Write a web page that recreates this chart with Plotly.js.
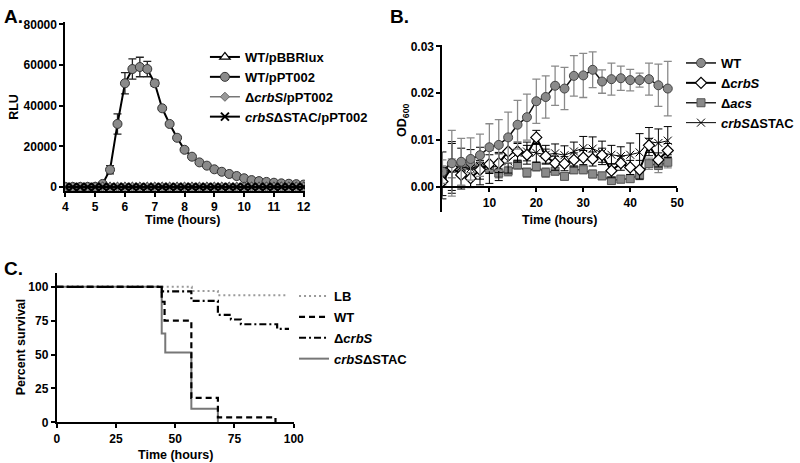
<!DOCTYPE html>
<html>
<head>
<meta charset="utf-8">
<script src="https://cdn.plot.ly/plotly-3.0.1.min.js"></script>
<style>html,body{margin:0;padding:0;background:#fff;}#chart{width:800px;height:463px;}</style>
</head>
<body>
<div id="chart"></div>
<script>
// ---------- Panel A data (RLU vs time, hours) ----------
const timeA = [4,4.25,4.5,4.75,5,5.25,5.5,5.75,6,6.25,6.5,6.75,7,7.25,7.5,7.75,8,8.25,8.5,8.75,9,9.25,9.5,9.75,10,10.25,10.5,10.75,11,11.25,11.5,11.75,12];
const rluWTpBBRlux = [0,0,0,0,0,0,0,0,0,0,0,0,0,0,0,0,0,0,0,0,0,0,0,0,0,0,0,0,0,0,0,0,0];
const rluWTpPT002 = [0,0,0,0,100,1500,8500,31000,51000,58000,59000,58000,51000,38700,31000,24200,18300,14900,12100,10500,8700,7500,6400,5400,4300,3400,2900,2500,2100,1800,1600,1400,1200];
const rluWTpPT002Err = [0,0,0,0,100,400,2000,5000,5200,5000,4800,3800,1500,800,600,500,400,400,300,300,300,200,200,200,200,200,200,200,200,200,200,200,200];
const rluCrbSpPT002 = [0,0,0,0,0,0,0,0,0,0,0,0,0,0,0,0,0,0,0,0,0,0,0,0,0,0,0,0,0,0,0,0,0];
const rluSTACpPT002 = [0,0,0,0,0,0,0,0,0,0,0,0,0,0,0,0,0,0,0,0,0,0,0,0,0,0,0,0,0,0,0,0,0];
const ticksA_x = [4,5,6,7,8,9,10,11,12];
const ticksA_y = [0,20000,40000,60000,80000];

// ---------- Panel B data (OD600 vs time, hours) ----------
const timeB = [0,2,4,6,8,10,12,14,16,18,20,22,24,26,28,30,32,34,36,38,40,42,44,46,48];
const odWT = [0.0033,0.0051,0.0054,0.0060,0.0068,0.0085,0.0090,0.0106,0.0133,0.0149,0.0183,0.0192,0.0216,0.0210,0.0237,0.0238,0.0250,0.0225,0.0230,0.0232,0.0228,0.0228,0.0230,0.0217,0.0210];
const odWTErr = [0.0025,0.0070,0.0050,0.0045,0.0045,0.0050,0.0054,0.0054,0.0052,0.0049,0.0047,0.0045,0.0042,0.0045,0.0043,0.0047,0.0038,0.0025,0.0034,0.0026,0.0023,0.0015,0.0034,0.0045,0.0058];
const odCrbS = [0.0012,0.0042,0.0026,0.0019,0.0037,0.0049,0.0051,0.0076,0.0076,0.0069,0.0106,0.0066,0.0051,0.0050,0.0058,0.0063,0.0060,0.0068,0.0035,0.0051,0.0042,0.0037,0.0089,0.0058,0.0078];
const odCrbSErr = [0.003,0.0055,0.003,0.002,0.002,0.002,0.002,0.0025,0.002,0.002,0.0015,0.0015,0.0015,0.0015,0.0015,0.0015,0.0015,0.0015,0.0015,0.0015,0.0015,0.002,0.0015,0.0015,0.0015];
const odAcs = [0.0025,0.0040,0.0041,0.0046,0.0044,0.0040,0.0030,0.0034,0.0048,0.0031,0.0044,0.0031,0.0034,0.0023,0.0037,0.0037,0.0028,0.0024,0.0014,0.0017,0.0018,0.0026,0.0050,0.0046,0.0053];
const odAcsErr = [0.002,0.002,0.0015,0.0015,0.001,0.001,0.001,0.001,0.001,0.001,0.001,0.001,0.0008,0.0008,0.0008,0.0008,0.0008,0.0008,0.0008,0.0008,0.0008,0.001,0.0012,0.0015,0.0012];
const odSTAC = [0.0025,0.0043,0.0043,0.0040,0.0045,0.0043,0.0044,0.0055,0.0073,0.0076,0.0073,0.0069,0.0072,0.0068,0.0076,0.0083,0.0082,0.0073,0.0069,0.0066,0.0069,0.0074,0.0097,0.0094,0.0099];
const odSTACErr = [0.005,0.005,0.004,0.004,0.004,0.0035,0.003,0.0025,0.002,0.002,0.002,0.002,0.002,0.002,0.002,0.0025,0.0025,0.0025,0.002,0.002,0.0025,0.004,0.003,0.003,0.003];
const ticksB_x = [10,20,30,40,50];
const ticksB_y = [0,0.01,0.02,0.03];

// ---------- Panel C data (survival curves) ----------
const survLB_t = [0,57,68,97.3];
const survLB_p = [100,96.9,93.8,93.8];
const survWT_t = [0,44.3,45.5,56.8,68,92.3];
const survWT_p = [100,89,75,18,3.6,0];
const survCrbS_t = [0,44.3,56.8,68,73.5,77.7,93,98];
const survCrbS_p = [100,96.6,89.6,79.3,75.9,72.4,69,69];
const survSTAC_t = [0,44.3,45.8,56.8,68];
const survSTAC_p = [100,65.5,51.5,10,0];
const ticksC = [0,25,50,75,100];

// ---------- helpers ----------
const W = 800, H = 463;
const fx = px => px / W;
const fy = py => 1 - py / H;
const FONT = 'Liberation Sans, Arial, Helvetica, sans-serif';
const tickFont = {family: FONT, size: 12, color: '#000', weight: 'bold'};
const axisBase = {
  showline: true, linecolor: '#000', linewidth: 2, ticks: 'outside', ticklen: 4,
  tickwidth: 2, tickcolor: '#000', showgrid: false, zeroline: false,
  tickfont: tickFont, fixedrange: true, tickmode: 'array'
};

const traces = [
  // Panel A
  {x: timeA, y: rluWTpPT002, xaxis: 'x', yaxis: 'y', legend: 'legend', legendrank: 2,
   name: 'WT/pPT002', mode: 'lines+markers',
   line: {color: '#000', width: 2},
   marker: {symbol: 'circle', size: 9, color: '#8a8a8a', line: {color: '#333', width: 1}},
   error_y: {type: 'data', array: rluWTpPT002Err, visible: true, color: '#222', thickness: 1.3, width: 4}},
  {x: timeA, y: rluWTpBBRlux, xaxis: 'x', yaxis: 'y', legend: 'legend', legendrank: 1,
   name: 'WT/pBBRlux', mode: 'lines+markers',
   line: {color: '#000', width: 2},
   marker: {symbol: 'triangle-up', size: 9, color: '#fff', line: {color: '#000', width: 1.3}}},
  {x: timeA, y: rluCrbSpPT002, xaxis: 'x', yaxis: 'y', legend: 'legend', legendrank: 3,
   name: 'Δ<i>crbS</i>/pPT002', mode: 'lines+markers',
   line: {color: '#777', width: 1.5},
   marker: {symbol: 'diamond', size: 7, color: '#999', line: {color: '#666', width: 1}}},
  {x: timeA, y: rluSTACpPT002, xaxis: 'x', yaxis: 'y', legend: 'legend', legendrank: 4,
   name: '<i>crbS</i>ΔSTAC/pPT002', mode: 'lines+markers',
   line: {color: '#000', width: 2},
   marker: {symbol: 'x-thin-open', size: 8, color: '#000', line: {color: '#000', width: 2}}},

  // Panel B
  {x: timeB, y: odAcs, xaxis: 'x2', yaxis: 'y2', legend: 'legend2', legendrank: 3,
   name: 'Δ<i>acs</i>', mode: 'lines+markers',
   line: {color: '#222', width: 1.5},
   marker: {symbol: 'square', size: 8, color: '#8a8a8a', line: {color: '#555', width: 1}},
   error_y: {type: 'data', array: odAcsErr, visible: true, color: '#8a8a8a', thickness: 1.3, width: 4}},
  {x: timeB, y: odSTAC, xaxis: 'x2', yaxis: 'y2', legend: 'legend2', legendrank: 4,
   name: '<i>crbS</i>ΔSTAC', mode: 'lines+markers',
   line: {color: '#000', width: 1},
   marker: {symbol: 'x-thin-open', size: 8, color: '#000', line: {color: '#000', width: 1}},
   error_y: {type: 'data', array: odSTACErr, visible: true, color: '#000', thickness: 1, width: 4}},
  {x: timeB, y: odCrbS, xaxis: 'x2', yaxis: 'y2', legend: 'legend2', legendrank: 2,
   name: 'Δ<i>crbS</i>', mode: 'lines+markers',
   line: {color: '#000', width: 2},
   marker: {symbol: 'diamond', size: 8.5, color: '#fff', line: {color: '#000', width: 1.2}},
   error_y: {type: 'data', array: odCrbSErr, visible: true, color: '#000', thickness: 1, width: 4}},
  {x: timeB, y: odWT, xaxis: 'x2', yaxis: 'y2', legend: 'legend2', legendrank: 1,
   name: 'WT', mode: 'lines+markers',
   line: {color: '#111', width: 1.5},
   marker: {symbol: 'circle', size: 9, color: '#8a8a8a', line: {color: '#444', width: 1}},
   error_y: {type: 'data', array: odWTErr, visible: true, color: '#8a8a8a', thickness: 1.3, width: 4}},

  // Panel C
  {x: survLB_t, y: survLB_p, xaxis: 'x3', yaxis: 'y3', legend: 'legend3', legendrank: 1, legendgroup: 'c1',
   name: 'LB', mode: 'lines', line: {shape: 'hv', color: '#9a9a9a', width: 2, dash: '2px,3px'}},
  {x: survSTAC_t, y: survSTAC_p, xaxis: 'x3', yaxis: 'y3', legend: 'legend3', legendrank: 4, legendgroup: 'c4',
   name: '<i>crbS</i>ΔSTAC', mode: 'lines', line: {shape: 'hv', color: '#777', width: 2}},
  {x: survCrbS_t, y: survCrbS_p, xaxis: 'x3', yaxis: 'y3', legend: 'legend3', legendrank: 3, legendgroup: 'c3',
   name: 'Δ<i>crbS</i>', mode: 'lines', line: {shape: 'hv', color: '#000', width: 2.2, dash: '7px,3px,2px,3px'}},
  {x: survWT_t, y: survWT_p, xaxis: 'x3', yaxis: 'y3', legend: 'legend3', legendrank: 2, legendgroup: 'c2',
   name: 'WT', mode: 'lines', line: {shape: 'hv', color: '#000', width: 2.2, dash: '6px,4px'}}
];

const titleFont = {family: FONT, size: 12.5, color: '#000', weight: 'bold'};
function label(text, px, py, angle, opts) {
  return Object.assign({text: text, xref: 'paper', yref: 'paper', x: fx(px), y: fy(py),
    xanchor: 'center', yanchor: 'middle', showarrow: false, textangle: angle || 0, font: titleFont}, opts || {});
}
const panelFont = {family: FONT, size: 19, color: '#000', weight: 'bold'};
const legendFont = {family: FONT, size: 13, color: '#000', weight: 'bold'};

const layout = {
  width: W, height: H, margin: {l: 0, r: 0, t: 0, b: 0},
  paper_bgcolor: '#fff', plot_bgcolor: 'rgba(0,0,0,0)',
  font: {family: FONT, color: '#000'},
  hovermode: false,
  xaxis: Object.assign({}, axisBase, {domain: [fx(66), fx(308)], range: [4, 12.04], anchor: 'y', tickvals: ticksA_x}),
  yaxis: Object.assign({}, axisBase, {domain: [fy(191), fy(22)], range: [-1967, 81131], anchor: 'x', tickvals: ticksA_y, tickformat: 'd'}),
  xaxis2: Object.assign({}, axisBase, {domain: [fx(446.9), fx(684)], range: [0, 50], anchor: 'free', position: fy(187.3), tickvals: ticksB_x}),
  yaxis2: Object.assign({}, axisBase, {domain: [fy(211.7), fy(45)], range: [-0.00523, 0.03028], anchor: 'x2', tickvals: ticksB_y, tickformat: '.2f'}),
  xaxis3: Object.assign({}, axisBase, {domain: [fx(57.3), fx(296.7)], range: [0, 100], anchor: 'y3', tickvals: ticksC}),
  yaxis3: Object.assign({}, axisBase, {domain: [fy(422.3), fy(273.3)], range: [0, 110], anchor: 'x3', tickvals: ticksC}),
  legend: {x: fx(207), y: fy(42), xanchor: 'left', yanchor: 'top', bgcolor: 'rgba(0,0,0,0)', font: legendFont, traceorder: 'normal'},
  legend2: {x: fx(688), y: fy(48), xanchor: 'left', yanchor: 'top', bgcolor: 'rgba(0,0,0,0)', font: legendFont, traceorder: 'normal'},
  legend3: {x: fx(297), y: fy(281), xanchor: 'left', yanchor: 'top', bgcolor: 'rgba(0,0,0,0)', font: legendFont, traceorder: 'grouped', tracegroupgap: 1},
  annotations: [
    label('A.', 2, 4, 0, {xanchor: 'left', yanchor: 'top', font: panelFont}),
    label('B.', 392, 4, 0, {xanchor: 'left', yanchor: 'top', font: panelFont}),
    label('C.', 2, 256, 0, {xanchor: 'left', yanchor: 'top', font: panelFont}),
    label('RLU', 14, 107, -90),
    label('Time (hours)', 184, 220, 0),
    label('OD<sub>600</sub>', 407, 120, -90),
    label('Time (hours)', 565, 220, 0),
    label('Percent survival', 21.5, 347, -90),
    label('Time (hours)', 177, 455, 0)
  ]
};

Plotly.newPlot('chart', traces, layout, {staticPlot: true, displayModeBar: false});
</script>
</body>
</html>
